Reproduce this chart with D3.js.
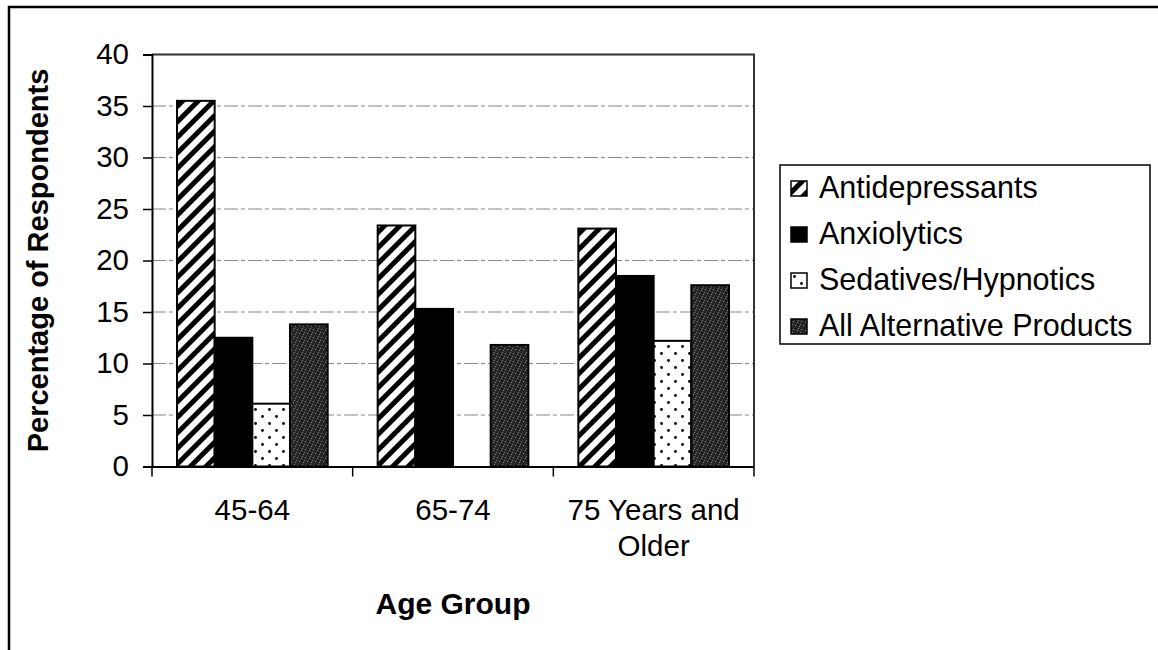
<!DOCTYPE html>
<html><head><meta charset="utf-8">
<script src="https://cdn.jsdelivr.net/npm/d3@7"></script>
<style>html,body{margin:0;padding:0;background:#fff;}svg{display:block;font-family:"Liberation Sans",Arial,Helvetica,sans-serif;}</style>
</head><body>
<svg id="c" width="1158" height="650"></svg>
<script>
const categories = ["45-64", "65-74", "75 Years and Older"];
const categoryLines = [["45-64"], ["65-74"], ["75 Years and", "Older"]];
const series = ["Antidepressants", "Anxiolytics", "Sedatives/Hypnotics", "All Alternative Products"];
const antidepressants = [35.5, 23.4, 23.1];
const anxiolytics = [12.5, 15.3, 18.5];
const sedatives = [6.1, 0, 12.2];
const alternatives = [13.8, 11.8, 17.6];
const yTicks = [0, 5, 10, 15, 20, 25, 30, 35, 40];
const seriesValues = [antidepressants, anxiolytics, sedatives, alternatives];

(function(){
const svg = d3.select("#c");
const defs = svg.append("defs");

const ph = defs.append("pattern").attr("id","hatch").attr("patternUnits","userSpaceOnUse")
  .attr("width",11).attr("height",11).attr("patternTransform","rotate(45)");
ph.append("rect").attr("width",11).attr("height",11).attr("fill","#fff");
ph.append("rect").attr("x",0).attr("y",0).attr("width",5).attr("height",11).attr("fill","#000");
const pd = defs.append("pattern").attr("id","dots").attr("patternUnits","userSpaceOnUse")
  .attr("width",14).attr("height",14);
pd.append("rect").attr("width",14).attr("height",14).attr("fill","#fff");
pd.append("circle").attr("cx",3.5).attr("cy",3.5).attr("r",1.4).attr("fill","#000");
pd.append("circle").attr("cx",10.5).attr("cy",10.5).attr("r",1.4).attr("fill","#000");
const pn = defs.append("pattern").attr("id","noise").attr("patternUnits","userSpaceOnUse")
  .attr("width",8).attr("height",8);
pn.append("rect").attr("width",8).attr("height",8).attr("fill","#262626");
[[1,1],[5,2],[3,5],[7,6],[0,4],[6,0]].forEach(([a,b])=>pn.append("rect").attr("x",a).attr("y",b).attr("width",1).attr("height",1).attr("fill","#8a8a8a"));
const fills = ["url(#hatch)", "#000", "url(#dots)", "url(#noise)"];

svg.append("path").attr("d","M9,650 L9,7 L1158,7").attr("fill","none").attr("stroke","#000").attr("stroke-width",2.5);

const pLeft = 152, pRight = 754, pTop = 54.5, pBottom = 466.5;
const y = d3.scaleLinear().domain([0,40]).range([pBottom, pTop]);
const x0 = d3.scaleBand().domain(categories).range([pLeft, pRight]).paddingInner(0).paddingOuter(0);
const x1 = d3.scaleBand().domain(series).range([25, x0.bandwidth()-25]).paddingInner(0);

svg.append("g").selectAll("line").data(yTicks.filter(t=>t>0 && t<40)).join("line")
  .attr("x1",pLeft).attr("x2",pRight).attr("y1",d=>y(d)).attr("y2",d=>y(d))
  .attr("stroke","#888").attr("stroke-width",1.2).attr("stroke-dasharray","14,3,4,3");

svg.append("path").attr("d",`M${pLeft},${pTop} L${pRight},${pTop} L${pRight},${pBottom}`)
  .attr("fill","none").attr("stroke","#333").attr("stroke-width",2);

const g = svg.append("g");
categories.forEach((c,ci)=>{
  series.forEach((s,si)=>{
    const v = seriesValues[si][ci];
    if (v <= 0) return;
    g.append("rect").attr("x", x0(c)+x1(s)).attr("y", y(v))
      .attr("width", x1.bandwidth()).attr("height", y(0)-y(v))
      .attr("fill", fills[si]).attr("stroke","#000").attr("stroke-width",2);
  });
});

const yAxis = d3.axisLeft(y).tickValues(yTicks).tickSize(9).tickPadding(14).tickFormat(d3.format("d"));
const ya = svg.append("g").attr("transform",`translate(${pLeft},0)`).call(yAxis);
ya.select(".domain").attr("stroke","#000").attr("stroke-width",2);
ya.selectAll(".tick line").attr("stroke","#000").attr("stroke-width",1.5);
ya.selectAll(".tick text").attr("font-size",29.5).attr("fill","#000").attr("font-family","Liberation Sans, Arial, sans-serif");

const xAxis = d3.axisBottom(x0).tickSize(0).tickFormat("");
const xa = svg.append("g").attr("transform",`translate(0,${pBottom})`).call(xAxis);
xa.select(".domain").attr("stroke","#000").attr("stroke-width",2);
const bounds = [pLeft].concat(categories.map(c=>x0(c)+x0.bandwidth()));
xa.selectAll(".sep").data(bounds).join("line").attr("class","sep")
  .attr("x1",d=>d).attr("x2",d=>d).attr("y1",0).attr("y2",10).attr("stroke","#000").attr("stroke-width",1.5);

categories.forEach((c,ci)=>{
  const cx = x0(c)+x0.bandwidth()/2;
  const t = svg.append("text").attr("x", cx).attr("y", 520)
    .attr("text-anchor","middle").attr("font-size",29.5).attr("fill","#000");
  categoryLines[ci].forEach((ln,li)=>t.append("tspan").attr("x", cx).attr("dy", li===0?0:36).text(ln));
});

svg.append("text").attr("x",(pLeft+pRight)/2).attr("y",614).attr("text-anchor","middle")
  .attr("font-size",30).attr("font-weight","bold").attr("fill","#000").text("Age Group");
svg.append("text").attr("transform",`translate(48,${(pTop+pBottom)/2}) rotate(-90)`).attr("text-anchor","middle")
  .attr("font-size",29).attr("font-weight","bold").attr("fill","#000").text("Percentage of Respondents");

svg.append("rect").attr("x",780).attr("y",165).attr("width",370).attr("height",179)
  .attr("fill","#fff").attr("stroke","#000").attr("stroke-width",1.5);
series.forEach((s,si)=>{
  const cy = 188 + si*46;
  svg.append("rect").attr("x",791).attr("y",cy-7).attr("width",16).attr("height",15)
    .attr("fill",fills[si]).attr("stroke","#000").attr("stroke-width",1.5);
  svg.append("text").attr("x",819).attr("y",cy+10).attr("font-size",30.5).attr("fill","#000").text(s);
});
})();
</script>
</body></html>
